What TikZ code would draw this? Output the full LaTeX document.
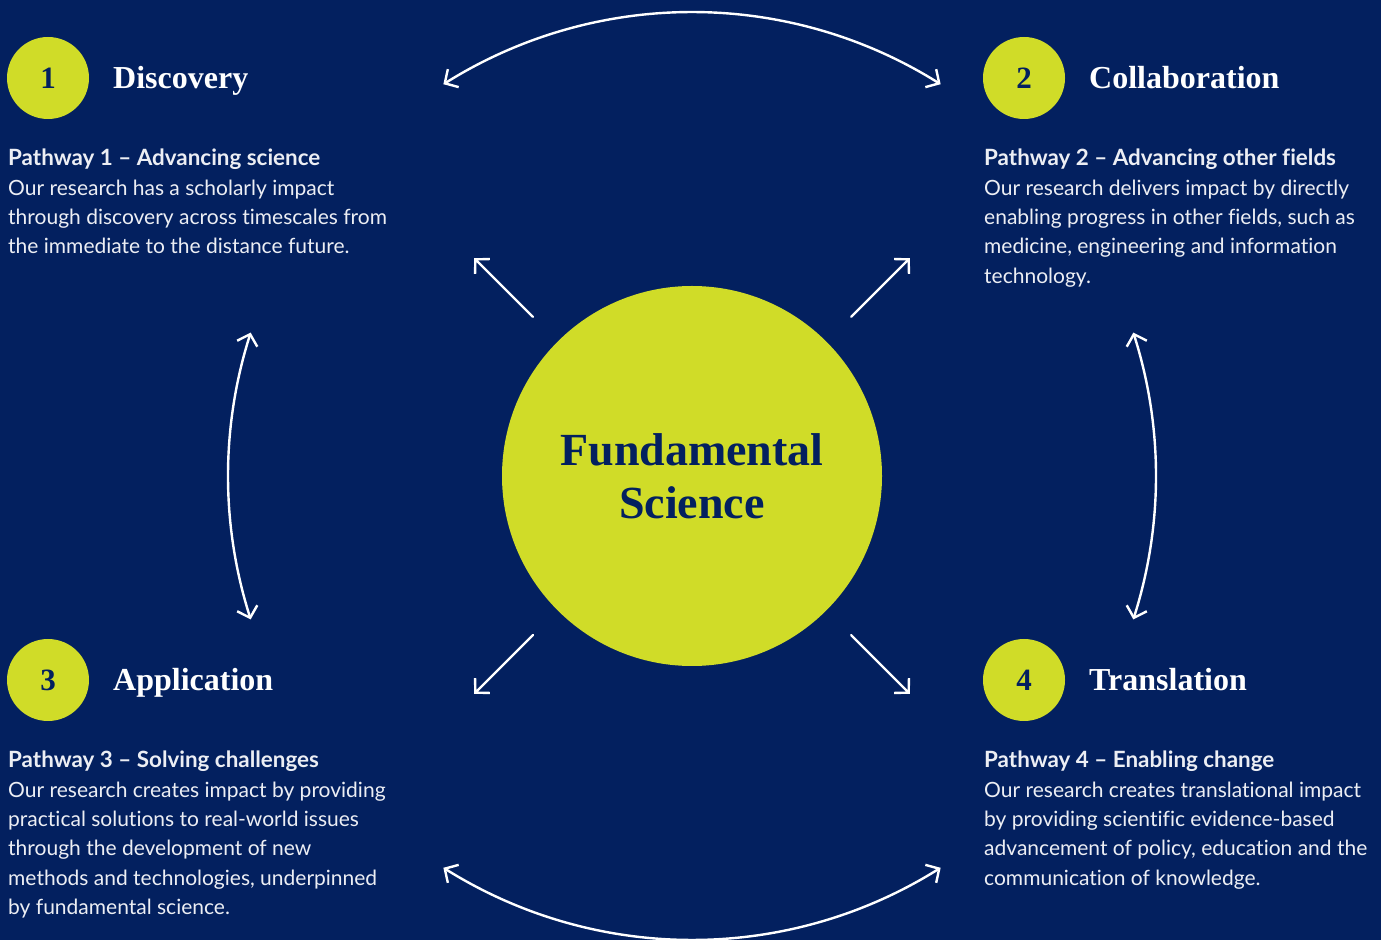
\documentclass[tikz,border=0pt]{standalone}
\usepackage{fontspec}
\setmainfont{Liberation Serif}
\newfontfamily\bodyfont[Ligatures={NoCommon}]{Lato}
\usetikzlibrary{arrows.meta,calc,bending}
\definecolor{navy}{HTML}{03205F}
\definecolor{lime}{HTML}{D0DC28}
\definecolor{bodytext}{HTML}{ECEEF4}

\begin{document}
\begin{tikzpicture}[x=1pt,y=1pt,
  numdisc/.style={circle, fill=lime, minimum size=82pt, inner sep=0pt, text=navy,
    font=\fontsize{31}{31}\selectfont\bfseries},
  headtitle/.style={anchor=base west, inner sep=0pt, text=white,
    font=\fontsize{32}{32}\selectfont\bfseries},
  pathtext/.style={anchor=north west, inner sep=0pt, align=left, text=bodytext,
    font=\bodyfont\fontsize{21}{29.3}\selectfont},
  pathhead/.style={font=\bodyfont\fontsize{22.4}{29.3}\selectfont\bfseries},
  barb/.tip={Straight Barb[length=10pt,width=21pt]},
  link/.style={draw=white, line width=2.4pt, line cap=round},
]
% canvas
\fill[navy] (0,0) rectangle (1381,940);
\useasboundingbox (0,0) rectangle (1381,940);
\clip (0,0) rectangle (1381,940);

% central disc
\node[circle, fill=lime, minimum size=380pt, inner sep=0pt, text=navy, align=center,
      font=\fontsize{46}{53}\selectfont\bfseries] (fs) at (692,464) {Fundamental\\Science};
\coordinate (C) at (692,464);

% numbered discs and titles
\node[numdisc] (n1) at (48,862) {1};
\node[numdisc] (n2) at (1024,862) {2};
\node[numdisc] (n3) at (48,260) {3};
\node[numdisc] (n4) at (1024,260) {4};

\node[headtitle] (t1) at (113,851) {Discovery};
\node[headtitle] (t2) at (1089,851) {Collaboration};
\node[headtitle] (t3) at (113,249) {Application};
\node[headtitle] (t4) at (1089,249) {Translation};

% pathway descriptions
\newcommand\pathhead[1]{{\fontsize{22.4}{29.3}\selectfont\bfseries #1}}
\node[pathtext] (p1) at (8,791) {\pathhead{Pathway 1 – Advancing science}\\
  Our research has a scholarly impact\\
  through discovery across timescales from\\
  the immediate to the distance future.};
\node[pathtext] (p2) at (984,791) {\pathhead{Pathway 2 – Advancing other fields}\\
  Our research delivers impact by directly\\
  enabling progress in other fields, such as\\
  medicine, engineering and information\\
  technology.};
\node[pathtext] (p3) at (8,189) {\pathhead{Pathway 3 – Solving challenges}\\
  Our research creates impact by providing\\
  practical solutions to real-world issues\\
  through the development of new\\
  methods and technologies, underpinned\\
  by fundamental science.};
\node[pathtext] (p4) at (984,189) {\pathhead{Pathway 4 – Enabling change}\\
  Our research creates translational impact\\
  by providing scientific evidence-based\\
  advancement of policy, education and the\\
  communication of knowledge.};

% outward arrows from the central disc
\foreach \a/\nm in {135/nw, 45/ne, 225/sw, 315/se}{
  \coordinate (s\nm) at ($(C)+(\a:225)$);
  \coordinate (e\nm) at ($(C)+(\a:308)$);
  \draw[link, -{barb}] (s\nm) -- (e\nm);
}

% arcs linking neighbouring pathways (on a ring around the disc)
\coordinate (a1) at ($(C)+(122.4:464)$);
\coordinate (a3) at ($(C)+(162:464)$);
\coordinate (a5) at ($(C)+(237.6:464)$);
\coordinate (a7) at ($(C)+(-18:464)$);
\draw[link, {barb[bend]}-{barb[bend]}] (a1) arc[start angle=122.4, end angle=57.6, radius=464];
\draw[link, {barb[bend]}-{barb[bend]}] (a3) arc[start angle=162, end angle=198, radius=464];
\draw[link, {barb[bend]}-{barb[bend]}] (a5) arc[start angle=237.6, end angle=302.4, radius=464];
\draw[link, {barb[bend]}-{barb[bend]}] (a7) arc[start angle=-18, end angle=18, radius=464];
\end{tikzpicture}
\end{document}
